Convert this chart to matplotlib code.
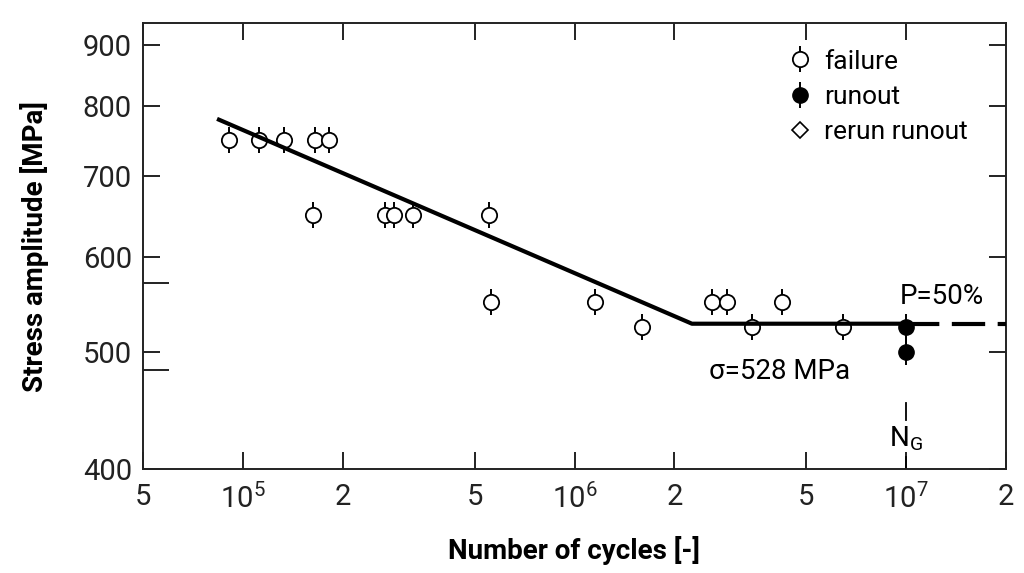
import matplotlib
matplotlib.use('Agg')
import matplotlib.pyplot as plt
from matplotlib.lines import Line2D
from matplotlib.ticker import FixedLocator, NullFormatter

plt.rcParams['font.family'] = ['Roboto', 'DejaVu Sans']
plt.rcParams['mathtext.fontset'] = 'custom'
plt.rcParams['mathtext.rm'] = 'Roboto'
plt.rcParams['mathtext.it'] = 'Roboto:italic'
plt.rcParams['mathtext.bf'] = 'Roboto:bold'

# failure points (cycles, stress amplitude)
fail_n = [9.1e4, 1.12e5, 1.33e5, 1.65e5, 1.82e5,
          1.63e5, 2.68e5, 2.86e5, 3.26e5, 5.52e5,
          5.6e5, 1.15e6, 2.6e6, 2.88e6, 4.22e6,
          1.6e6, 3.43e6, 6.44e6]
fail_s = [750, 750, 750, 750, 750,
          650, 650, 650, 650, 650,
          550, 550, 550, 550, 550,
          525, 525, 525]

runout_n = [1e7, 1e7]
runout_s = [525, 500]

# S-N curve
sn_n = [8.36e4, 2.26e6, 1e7]
sn_s = [781, 528, 528]
ext_n = [1e7, 2e7]
ext_s = [528, 528]

xticks = [5e4, 1e5, 2e5, 5e5, 1e6, 2e6, 5e6, 1e7, 2e7]
xlabels = ['5', r'$10^5$', '2', '5', r'$10^6$', '2', '5', r'$10^7$', '2']
yticks = [400, 500, 600, 700, 800, 900]
yminor = [483, 571]

fig = plt.figure(figsize=(10.24, 5.73), dpi=100)
ax = fig.add_axes([143/1024, 104/573, 863/1024, 446/573])
ax.set_xscale('log')
ax.set_yscale('log')
ax.set_xlim(5e4, 2e7)
ax.set_ylim(400, 938)

ax.plot(sn_n, sn_s, color='black', lw=3, zorder=4, solid_capstyle='butt')
ax.plot(ext_n, ext_s, color='black', lw=3, ls=(0, (8, 3)), zorder=4)

# failure markers: vertical tick + open circle
ax.plot(fail_n, fail_s, ls='none', marker='|', ms=19, mew=1.4, color='black', zorder=2)
ax.plot(fail_n, fail_s, ls='none', marker='o', ms=11, mew=1.3, mec='black',
        mfc='white', zorder=3)
# runouts
ax.plot(runout_n, runout_s, color='black', lw=1.3, zorder=2)
ax.plot(runout_n, runout_s, ls='none', marker='|', ms=19, mew=1.4, color='black', zorder=2)
ax.plot(runout_n, runout_s, ls='none', marker='o', ms=11, color='black', zorder=5)

# N_G marker
ax.plot([1e7, 1e7], [439, 454], color='black', lw=1.3)
ax.plot([1e7, 1e7], [400, 409], color='black', lw=1.3)
ax.text(1e7, 424, r'N$_{\mathrm{G}}$', ha='center', va='center', fontsize=20)

ax.text(1.28e7, 556, 'P=50%', ha='center', va='center', fontsize=20)
ax.text(4.16e6, 481.5, 'σ=528 MPa', ha='center', va='center', fontsize=20)

ax.xaxis.set_major_locator(FixedLocator(xticks))
ax.set_xticklabels(xlabels)
ax.xaxis.set_minor_formatter(NullFormatter())
ax.xaxis.set_minor_locator(FixedLocator([]))
ax.yaxis.set_major_locator(FixedLocator(yticks))
ax.set_yticklabels([str(v) for v in yticks])
ax.yaxis.set_minor_locator(FixedLocator(yminor))
ax.yaxis.set_minor_formatter(NullFormatter())

ax.tick_params(which='major', direction='in', length=12, width=1.4, labelsize=21,
               top=True, right=True, pad=8, color='#222222', labelcolor='#222222')
ax.tick_params(axis='x', which='major', pad=10)
ax.tick_params(which='minor', direction='in', length=19, width=1.4,
               left=True, right=False, top=False, bottom=False, color='#222222')
for s in ax.spines.values():
    s.set_linewidth(1.4)
    s.set_color('#222222')

ax.set_xlabel('Number of cycles [-]', fontsize=20, fontweight='bold', labelpad=16)
ax.set_ylabel('Stress amplitude [MPa]', fontsize=20, fontweight='bold', labelpad=24)

h_fail = (Line2D([], [], ls='none', marker='|', ms=19, mew=1.4, color='black'),
          Line2D([], [], ls='none', marker='o', ms=11, mew=1.3, mec='black', mfc='white'))
h_run = (Line2D([], [], ls='none', marker='|', ms=19, mew=1.4, color='black'),
         Line2D([], [], ls='none', marker='o', ms=11, color='black'))
h_rerun = Line2D([], [], ls='none', marker='D', ms=8.5, mew=1.2, mec='black', mfc='white')
ax.legend([h_fail, h_run, h_rerun], ['failure', 'runout', 'rerun runout'],
          loc='upper left', bbox_to_anchor=(0.742, 0.952), frameon=False, fontsize=19,
          handlelength=0.9, handletextpad=0.45, labelspacing=0.42, borderaxespad=0.0,
          borderpad=0.2)

fig.savefig('out.png', dpi=100)
